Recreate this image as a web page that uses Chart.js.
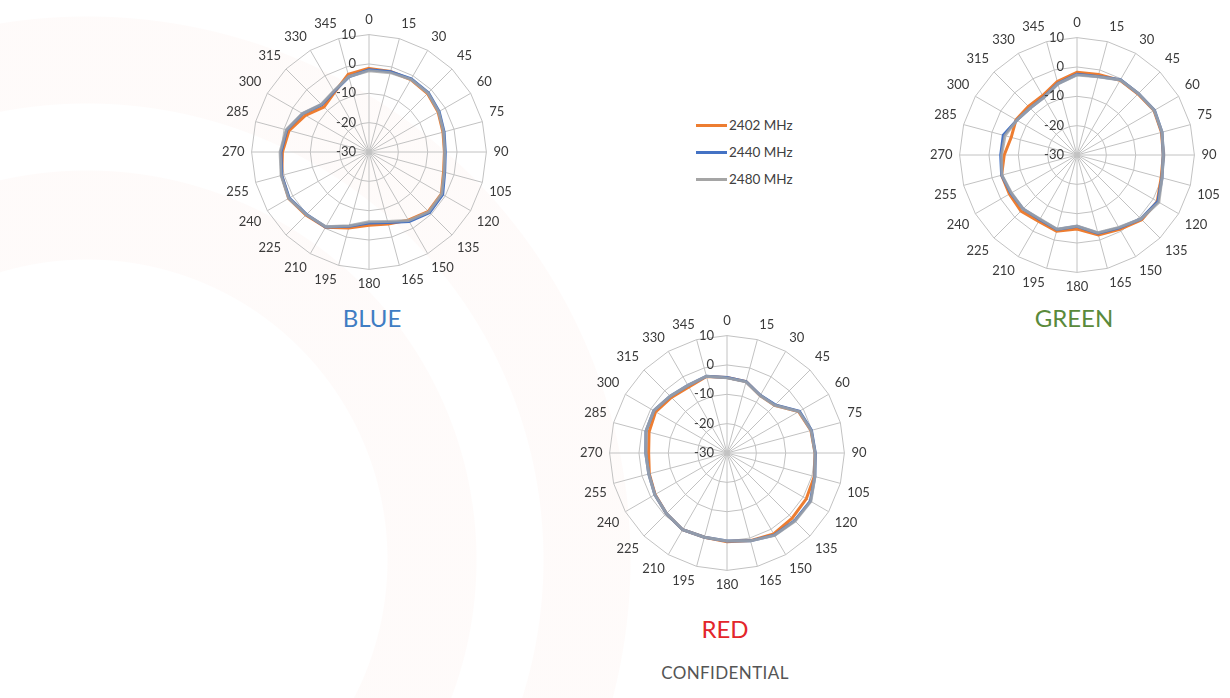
<!DOCTYPE html>
<html>
<head>
<meta charset="utf-8">
<script src="https://cdn.jsdelivr.net/npm/chart.js@4.4.1/dist/chart.umd.min.js"></script>
<style>
  html, body { margin: 0; padding: 0; }
  body {
    width: 1230px; height: 698px; position: relative; overflow: hidden;
    font-family: Lato, "Open Sans", sans-serif;
    background:
      radial-gradient(circle at 87px 560px, transparent 456px, rgba(232,120,90,0.03) 457px, rgba(232,120,90,0.03) 543px, transparent 544px),
      radial-gradient(circle at 87px 560px, transparent 300px, rgba(232,120,90,0.03) 301px, rgba(232,120,90,0.03) 389px, transparent 390px),
      #fff;
  }
  canvas { position: absolute; }
  .title { position: absolute; transform: translate(-50%, -50%); line-height: 1; font-size: 24px; white-space: nowrap; }
  .legend-item { position: absolute; left: 696px; height: 16px; display: flex; align-items: center; transform: translateY(-50%); }
  .legend-item .swatch { width: 31px; height: 3px; margin-right: 2px; }
  .legend-item span { font-size: 13.5px; color: #404040; }
  #confidential { position: absolute; left: 725px; top: 672px; transform: translate(-50%, -50%); font-size: 17px; color: #555; letter-spacing: 0.4px; }
</style>
</head>
<body>
<canvas id="blue" width="294" height="294" style="left:220px;top:6px"></canvas>
<canvas id="green" width="294" height="294" style="left:928px;top:9px"></canvas>
<canvas id="red" width="294" height="294" style="left:578px;top:307px"></canvas>

<div class="title" style="left:372px;top:318px;color:#3f7dc3">BLUE</div>
<div class="title" style="left:1074px;top:318px;color:#5a8a3b">GREEN</div>
<div class="title" style="left:725px;top:629px;color:#e3262b">RED</div>
<div id="confidential">CONFIDENTIAL</div>
<div id="legend"></div>

<script>
const ANGLES = ["0", "15", "30", "45", "60", "75", "90", "105", "120", "135", "150", "165",
  "180", "195", "210", "225", "240", "255", "270", "285", "300", "315", "330", "345"];
const R_TICKS = [10, 0, -10, -20, -30];
const SERIES_NAMES = ["2402 MHz", "2440 MHz", "2480 MHz"];
const SERIES_COLORS = ["#ed7d31", "#4472c4", "rgba(165,165,165,0.8)"];
const LEGEND_COLORS = ["#ed7d31", "#4472c4", "#a5a5a5"];

// BLUE board
const BLUE_2402 = [-1.5, -1.6, -1.5, -1.8, -2.8, -3.9, -4.3, -3.7, -1.5, -1.4, -3.2, -4.6,
  -5.0, -3.2, -0.4, 0.4, 1.6, 0.8, -0.5, -1.8, -5.0, -8.3, -6.5, -2.6];
const BLUE_2440 = [-2.0, -1.7, -1.2, -1.4, -2.4, -3.5, -4.0, -3.3, -1.0, -0.8, -2.6, -5.1,
  -5.8, -3.8, -0.5, 0.1, 1.4, 0.8, 0.0, -1.0, -3.9, -7.2, -6.2, -3.5];
const BLUE_2480 = [-2.3, -2.0, -1.4, -1.6, -2.6, -3.7, -4.2, -3.5, -1.4, -1.2, -3.0, -5.5,
  -6.2, -4.0, -0.6, 0.2, 1.6, 1.0, 0.3, -0.8, -3.8, -7.0, -6.0, -3.4];

// GREEN board
const GREEN_2402 = [-1.8, -1.6, -0.6, -0.6, 0.3, -0.2, -0.6, -0.3, 1.6, 1.2, -0.8, -1.8,
  -4.8, -3.1, -3.9, -3.0, -3.4, -3.4, -5.2, -6.8, -6.0, -6.6, -6.6, -4.1];
const GREEN_2440 = [-2.5, -2.3, -0.4, -0.4, 0.5, 0.0, -0.6, 0.0, 1.8, 0.8, -1.3, -2.4,
  -5.7, -3.7, -4.6, -4.0, -4.0, -3.4, -4.0, -4.0, -6.3, -7.4, -7.3, -4.8];
const GREEN_2480 = [-2.7, -2.4, -0.5, -0.4, 0.4, 0.0, -0.6, 0.0, 2.2, 0.8, -1.5, -2.6,
  -5.8, -3.8, -4.8, -4.0, -4.2, -3.5, -4.3, -4.6, -6.3, -7.4, -7.4, -4.9];

// RED board
const RED_2402 = [-4.3, -4.8, -7.4, -7.0, -1.8, -0.4, 0.0, 0.8, 1.2, 1.4, 1.8, 0.9,
  0.2, -0.3, 0.2, -0.8, -1.7, -2.6, -3.3, -2.5, -1.9, -3.2, -4.0, -3.0];
const RED_2440 = [-4.3, -4.8, -7.3, -6.8, -1.5, -0.2, 0.1, 1.0, 2.8, 2.6, 2.3, 1.0,
  0.0, -0.3, 0.2, -0.8, -1.6, -2.4, -2.3, -1.4, -1.2, -2.6, -3.4, -2.9];
const RED_2480 = [-4.4, -4.9, -7.4, -7.0, -1.7, -0.3, 0.0, 1.0, 3.0, 2.8, 2.4, 1.0,
  0.0, -0.3, 0.2, -0.8, -1.6, -2.4, -2.3, -1.4, -1.2, -2.6, -3.4, -2.9];

const FONT = "Lato, 'Open Sans', sans-serif";
const TEXT_COLOR = "#3a3a3a";
const GRID_COLOR = "#c2c2c2";

// radial tick labels sit just left of the 0 degree spoke, no backdrop
const tickLabelPlugin = {
  id: "tickLabels",
  afterDraw(chart) {
    const scale = chart.scales.r;
    const { ctx } = chart;
    ctx.save();
    ctx.font = `13px ${FONT}`;
    ctx.fillStyle = TEXT_COLOR;
    ctx.textAlign = "right";
    ctx.textBaseline = "middle";
    R_TICKS.forEach(v => {
      const d = scale.getDistanceFromCenterForValue(v);
      ctx.fillText(String(v), scale.xCenter - 13, scale.yCenter - d);
    });
    ctx.restore();
  },
};

function makeRadar(id, series) {
  return new Chart(document.getElementById(id), {
    type: "radar",
    data: {
      labels: ANGLES,
      datasets: series.map((values, i) => ({
        label: SERIES_NAMES[i],
        data: values,
        borderColor: SERIES_COLORS[i],
        borderWidth: 3,
        pointRadius: 0,
        fill: false,
        tension: 0,
        order: series.length - i,
      })),
    },
    options: {
      responsive: false,
      animation: false,
      devicePixelRatio: 1,
      layout: { padding: 0 },
      plugins: { legend: { display: false }, tooltip: { enabled: false } },
      scales: {
        r: {
          min: R_TICKS[R_TICKS.length - 1],
          max: R_TICKS[0],
          ticks: { stepSize: 10, display: false },
          grid: { color: GRID_COLOR, lineWidth: 1 },
          angleLines: { color: GRID_COLOR, lineWidth: 1 },
          pointLabels: { font: { family: FONT, size: 13 }, color: TEXT_COLOR, padding: 7 },
        },
      },
    },
    plugins: [tickLabelPlugin],
  });
}

function buildLegend() {
  const legend = document.getElementById("legend");
  const tops = [125, 152, 179];
  SERIES_NAMES.forEach((name, i) => {
    const item = document.createElement("div");
    item.className = "legend-item";
    item.style.top = tops[i] + "px";
    item.innerHTML = `<div class="swatch" style="background:${LEGEND_COLORS[i]}"></div><span>${name}</span>`;
    legend.appendChild(item);
  });
}

makeRadar("blue", [BLUE_2402, BLUE_2440, BLUE_2480]);
makeRadar("green", [GREEN_2402, GREEN_2440, GREEN_2480]);
makeRadar("red", [RED_2402, RED_2440, RED_2480]);
buildLegend();
</script>
</body>
</html>
